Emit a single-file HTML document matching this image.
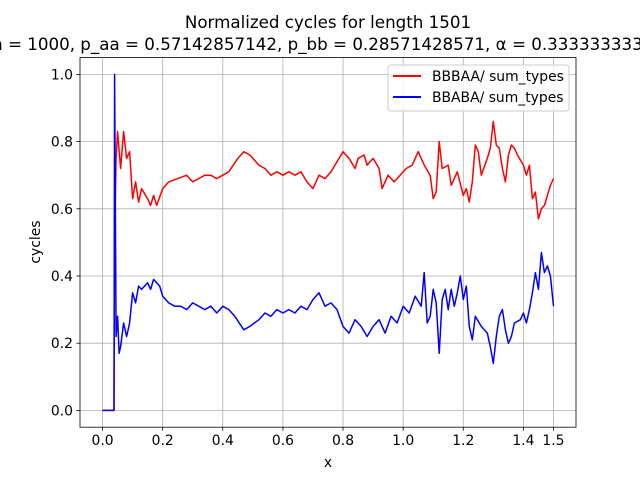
<!DOCTYPE html>
<html><head><meta charset="utf-8"><style>
html,body{margin:0;padding:0;background:#fff;}
svg{display:block;font-family:"DejaVu Sans","Liberation Sans",sans-serif;}
</style></head><body>
<svg id="chart" width="640" height="480" viewBox="0 0 640 480" xmlns="http://www.w3.org/2000/svg">
<rect width="640" height="480" fill="#fff"/>
<g id="grid"></g>
<g id="series"></g>
<rect x="80" y="57.6" width="496" height="369.6" fill="none" stroke="#000" stroke-width="0.8"/>
<g id="ticks"></g>
<text x="328" y="28" text-anchor="middle" font-size="16.7">Normalized cycles for length 1501</text>
<text x="328" y="50" text-anchor="middle" font-size="16.7">n = 1000, p_aa = 0.57142857142, p_bb = 0.28571428571, α = 0.33333333333</text>
<text x="328" y="467" text-anchor="middle" font-size="13.9">x</text>
<text x="40" y="242" text-anchor="middle" font-size="13.9" transform="rotate(-90 40 242)">cycles</text>
<g>
<rect x="388" y="65" width="181" height="46" rx="3" fill="#fff" fill-opacity="0.8" stroke="#ccc" stroke-width="1"/>
<g><line x1="393" y1="76" x2="421" y2="76" stroke="#f00" stroke-width="2"/><text x="432" y="81" font-size="13.9">BBBAA/ sum_types</text></g>
<g><line x1="393" y1="97" x2="421" y2="97" stroke="#00f" stroke-width="2"/><text x="432" y="102" font-size="13.9">BBABA/ sum_types</text></g>
</g>
</svg>
<script>
const xTicks = [0.0,0.2,0.4,0.6,0.8,1.0,1.2,1.4,1.5];
const xTickLabels = ["0.0","0.2","0.4","0.6","0.8","1.0","1.2","1.4","1.5"];
const yTicks = [0.0,0.2,0.4,0.6,0.8,1.0];
const yTickLabels = ["0.0","0.2","0.4","0.6","0.8","1.0"];
const redX = [0,0.038,0.04,0.045,0.05,0.06,0.07,0.08,0.09,0.10,0.11,0.12,0.13,0.15,0.16,0.17,0.18,0.20,0.22,0.25,0.28,0.30,0.32,0.34,0.36,0.38,0.40,0.42,0.45,0.47,0.49,0.52,0.54,0.56,0.58,0.60,0.62,0.64,0.66,0.68,0.70,0.72,0.74,0.76,0.78,0.80,0.82,0.84,0.85,0.87,0.88,0.90,0.92,0.93,0.95,0.97,0.99,1.01,1.03,1.05,1.07,1.09,1.10,1.11,1.12,1.13,1.15,1.16,1.18,1.20,1.21,1.22,1.23,1.24,1.25,1.26,1.28,1.29,1.30,1.31,1.32,1.33,1.34,1.35,1.36,1.37,1.38,1.40,1.41,1.42,1.43,1.44,1.45,1.46,1.47,1.48,1.49,1.50];
const redY = [0,0,0.5,0.75,0.83,0.72,0.83,0.75,0.77,0.63,0.68,0.62,0.66,0.63,0.61,0.64,0.61,0.66,0.68,0.69,0.70,0.68,0.69,0.70,0.70,0.69,0.70,0.71,0.75,0.77,0.76,0.73,0.72,0.70,0.71,0.70,0.71,0.70,0.71,0.68,0.66,0.70,0.69,0.71,0.74,0.77,0.75,0.72,0.75,0.76,0.73,0.75,0.72,0.66,0.70,0.68,0.70,0.72,0.73,0.77,0.73,0.70,0.63,0.65,0.80,0.72,0.73,0.67,0.71,0.64,0.66,0.62,0.68,0.79,0.77,0.70,0.75,0.78,0.86,0.79,0.78,0.72,0.68,0.76,0.79,0.78,0.76,0.73,0.70,0.73,0.63,0.65,0.57,0.60,0.61,0.64,0.67,0.69];
const blueX = [0,0.038,0.04,0.045,0.05,0.055,0.06,0.07,0.08,0.09,0.10,0.11,0.12,0.13,0.15,0.16,0.17,0.19,0.20,0.22,0.24,0.26,0.28,0.30,0.32,0.34,0.36,0.38,0.40,0.42,0.44,0.47,0.49,0.52,0.54,0.56,0.58,0.60,0.62,0.64,0.66,0.68,0.70,0.72,0.74,0.76,0.78,0.80,0.82,0.84,0.86,0.88,0.90,0.92,0.94,0.96,0.98,1.00,1.02,1.04,1.06,1.07,1.08,1.09,1.10,1.11,1.12,1.13,1.14,1.15,1.16,1.17,1.18,1.19,1.20,1.21,1.22,1.23,1.24,1.26,1.28,1.29,1.30,1.31,1.32,1.33,1.34,1.35,1.36,1.37,1.39,1.40,1.41,1.42,1.43,1.44,1.45,1.46,1.47,1.48,1.49,1.50];
const blueY = [0,0,1.0,0.22,0.28,0.17,0.19,0.26,0.22,0.26,0.35,0.32,0.37,0.36,0.38,0.36,0.39,0.37,0.34,0.32,0.31,0.31,0.30,0.32,0.31,0.30,0.31,0.29,0.31,0.30,0.28,0.24,0.25,0.27,0.29,0.28,0.30,0.29,0.30,0.29,0.31,0.30,0.33,0.35,0.31,0.32,0.30,0.25,0.23,0.27,0.25,0.22,0.25,0.27,0.23,0.28,0.26,0.31,0.29,0.34,0.31,0.41,0.26,0.28,0.36,0.32,0.17,0.33,0.36,0.30,0.36,0.31,0.35,0.40,0.33,0.37,0.25,0.21,0.28,0.25,0.23,0.19,0.14,0.22,0.28,0.30,0.24,0.20,0.22,0.26,0.27,0.29,0.26,0.30,0.35,0.41,0.36,0.47,0.41,0.43,0.40,0.31];

const L=80,R=576,T=57.6,B=427.2,xmin=-0.075,xmax=1.575,ymin=-0.05,ymax=1.05;
function sx(v){return L+(v-xmin)/(xmax-xmin)*(R-L);}
function sy(v){return B-(v-ymin)/(ymax-ymin)*(B-T);}
const NS="http://www.w3.org/2000/svg";
function mk(tag,attrs,parent){const e=document.createElementNS(NS,tag);for(const k in attrs)e.setAttribute(k,attrs[k]);parent.appendChild(e);return e;}
const grid=document.getElementById('grid'),ticks=document.getElementById('ticks'),series=document.getElementById('series');
xTicks.forEach((t,i)=>{
  const x=sx(t);
  const g=mk('line',{x1:x,x2:x,y1:T,y2:B,stroke:'#b0b0b0','stroke-width':0.8},grid);
  
  
  const tk=mk('line',{x1:x,x2:x,y1:B,y2:B+3.5,stroke:'#000','stroke-width':0.8},ticks);
  
  
  const tx=mk('text',{x:x,y:B+18,'text-anchor':'middle','font-size':13.9},ticks);
  tx.textContent=xTickLabels[i];
  
  
});
yTicks.forEach((t,i)=>{
  const y=sy(t);
  const g=mk('line',{x1:L,x2:R,y1:y,y2:y,stroke:'#b0b0b0','stroke-width':0.8},grid);
  
  
  const tk=mk('line',{x1:L-3.5,x2:L,y1:y,y2:y,stroke:'#000','stroke-width':0.8},ticks);
  
  
  const tx=mk('text',{x:L-7,y:y+5,'text-anchor':'end','font-size':13.9},ticks);
  tx.textContent=yTickLabels[i];
  
  
});
function pts(xs,ys){return xs.map((x,i)=>sx(x).toFixed(1)+','+sy(ys[i]).toFixed(1)).join(' ');}
const red=mk('polyline',{points:pts(redX,redY),fill:'none',stroke:'#f00','stroke-width':1.5,'stroke-linejoin':'round'},series);


const blue=mk('polyline',{points:pts(blueX,blueY),fill:'none',stroke:'#00f','stroke-width':1.5,'stroke-linejoin':'round'},series);


</script>
</body></html>
